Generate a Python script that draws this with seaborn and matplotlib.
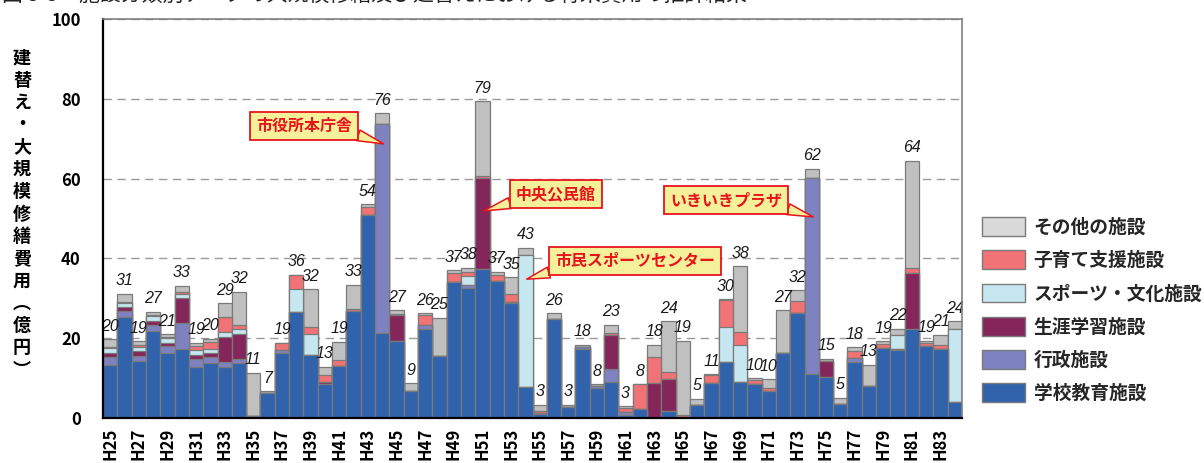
import numpy as np
import pandas as pd
import matplotlib
matplotlib.use("Agg")
import matplotlib.pyplot as plt
from matplotlib.patches import Patch
import seaborn as sns

# ---------------- data ----------------
years = [f"H{y}" for y in range(25, 85)]

school = [13.4, 25.3, 14.25, 21.75, 16.2, 17.3, 12.8, 13.8, 12.8, 13.7,
          0.4, 6.2, 16.3, 26.6, 15.75, 8.5, 13.1, 26.75, 51.0, 21.3,
          19.3, 6.8, 22.25, 15.6, 34.1, 32.6, 37.3, 34.25, 28.8, 7.7,
          1.0, 24.9, 2.8, 17.4, 7.4, 8.9, 0.75, 2.25, 0.0, 1.8,
          0.2, 3.25, 8.7, 14.0, 9.0, 8.5, 6.8, 16.2, 26.2, 11.0,
          10.3, 3.4, 14.1, 8.1, 17.6, 17.0, 22.3, 18.1, 17.4, 4.1]
admin = [1.9, 1.45, 1.35, 1.65, 1.8, 6.5, 2.1, 1.5, 1.3, 1.2,
         0, 0, 0.7, 0, 0, 0, 0, 0, 0, 52.4,
         0, 0, 1.0, 0, 0, 0.65, 0, 0, 0.3, 0,
         0.2, 0, 0, 0.3, 0.7, 3.35, 0.65, 0, 0, 0,
         0, 0, 0, 0, 0, 0, 0, 0, 0, 49.1,
         0, 0, 0.9, 0, 0, 0.4, 0, 0, 0, 0]
lifelong = [0.9, 0.95, 1.15, 0.85, 0.9, 6.4, 0.85, 1.0, 6.2, 6.1,
            0, 0, 0, 0, 0, 0.4, 0, 0, 0, 0,
            6.45, 0, 0, 0, 0, 0, 22.8, 0, 0, 0,
            0, 0, 0, 0, 0, 8.5, 0, 0, 8.7, 7.95,
            0, 0, 0, 0, 0, 0, 0, 0, 0, 0,
            4.0, 0, 0, 0, 0, 0, 14.1, 0, 0, 0]
sports = [1.4, 1.0, 1.05, 1.25, 1.2, 1.0, 1.25, 1.1, 1.3, 1.2,
          0, 0, 0, 5.8, 5.25, 0.2, 0, 0, 0, 0,
          0, 0, 0, 0, 0, 2.25, 0, 0, 0, 33.05,
          0, 0, 0, 0, 0, 0, 0, 0, 0, 0,
          0, 0, 0, 8.9, 9.2, 0, 0, 0, 0, 0,
          0, 0, 0, 0, 0, 3.35, 0, 0, 0, 18.3]
child = [0.2, 0.3, 0.4, 0.3, 0.2, 0.3, 1.0, 1.7, 3.7, 1.2,
         0, 0, 1.7, 3.35, 1.7, 1.8, 1.4, 0.55, 1.9, 0,
         0.3, 0, 2.5, 0, 2.3, 1.1, 0.5, 1.65, 2.1, 0,
         0.6, 0, 0, 0, 0, 0.65, 1.2, 6.15, 6.6, 1.85,
         0.6, 0, 2.05, 6.7, 3.4, 1.0, 0.6, 0, 3.1, 0,
         0, 0, 1.75, 0, 0.9, 0, 1.3, 0.65, 1.0, 0]
other = [1.9, 2.2, 1.05, 0.8, 0.7, 1.6, 0.8, 0.7, 3.4, 8.2,
         10.9, 0.55, 0.2, 0.2, 9.6, 1.9, 4.6, 6.1, 0.7, 2.7,
         0.95, 1.9, 0.55, 9.5, 0.6, 1.1, 18.8, 0.7, 4.1, 1.85,
         1.5, 1.4, 0.5, 0.7, 0.3, 2.0, 0.3, 0.0, 3.1, 12.65,
         18.6, 1.5, 0.25, 0.2, 16.4, 0.5, 2.3, 10.8, 2.7, 2.3,
         0.6, 1.7, 0.95, 5.2, 0.75, 1.65, 26.7, 0.65, 2.5, 1.85]

categories = ["学校教育施設", "行政施設", "生涯学習施設",
              "スポーツ・文化施設", "子育て支援施設", "その他の施設"]
colors = ["#3162AC", "#7F82C0", "#85265B", "#C6E7EF", "#F27375", "#C0C0C0"]
legend_colors = ["#3162AC", "#7F82C0", "#85265B", "#C6E7EF", "#F27375", "#D9D9D9"]

callouts = ["市役所本庁舎", "中央公民館", "市民スポーツセンター", "いきいきプラザ"]
callout_year = ["H44", "H51", "H54", "H74"]
callout_val = [68.7, 51.9, 34.8, 50.4]

# ---------------- figure ----------------
sns.set_theme(style="white")
plt.rcParams["font.family"] = ["Noto Sans CJK JP", "DejaVu Sans"]

W, H = 1204, 463
fig = plt.figure(figsize=(W / 100, H / 100), dpi=100)
ax = fig.add_axes([103 / W, 1 - 418 / H, (962 - 103) / W, (418 - 19) / H])

stack = np.array([school, admin, lifelong, sports, child, other])
cum = np.cumsum(stack, axis=0)
df = pd.DataFrame({"year": years})
for k in range(6):
    df[categories[k]] = cum[k]

for k in reversed(range(6)):
    sns.barplot(data=df, x="year", y=categories[k], order=years,
                color=colors[k], saturation=1, width=1.0,
                edgecolor="#7A7A7A", linewidth=0.9, ax=ax, zorder=3)

totals = cum[-1]
for i, t in enumerate(totals):
    ax.annotate(f"{t:.0f}", xy=(i, t), xytext=(0, 4), textcoords="offset points",
                ha="center", va="bottom", fontsize=11.5, fontstyle="italic",
                family="Liberation Sans", color="#1A1A1A", zorder=5)

ax.set_xlim(-0.5, len(years) - 0.5)
ax.set_ylim(0, 100)
ax.set_yticks([0, 20, 40, 60, 80, 100])
ax.set_xticks(range(0, len(years), 2))
ax.set_xticklabels(years[::2], rotation=90, fontsize=12, fontweight="bold")
for lab in ax.get_yticklabels():
    lab.set_fontsize(12)
    lab.set_fontweight("bold")
ax.tick_params(axis="y", length=0, pad=16, labelcolor="black")
ax.tick_params(axis="x", length=0, pad=7, labelcolor="black")
ax.set_xlabel("")
ax.set_ylabel("")

ax.set_axisbelow(True)
ax.yaxis.grid(True, linestyle=(0, (6, 4)), color="#9A9A9A", linewidth=1.0)
ax.xaxis.grid(False)
for s in ["left", "bottom"]:
    ax.spines[s].set_color("black")
    ax.spines[s].set_linewidth(1.6)
for s in ["top", "right"]:
    ax.spines[s].set_color("#808080")
    ax.spines[s].set_linewidth(1.2)
for s in ax.spines.values():
    s.set_zorder(6)

# y label (vertical stacked characters)
ylab = "建替え・大規模修繕費用︵億円︶"
fig.text(22 / W, 1 - 214 / H, "\n".join(ylab), ha="center", va="center",
         fontsize=13, fontweight="bold", linespacing=1.22, color="black")

# title, mostly above the top edge as in the reference
fig.text(2 / W, 1 - 2 / H, "図 3-3　施設分類別データの大規模修繕及び建替えにおける将来費用の推計結果",
         ha="left", va="baseline", fontsize=15, color="#222222")

# callouts
text_pos = [(304, 126), (556, 194), (635, 261), (726, 200)]
relpos = [(0.95, 0.15), (0.1, 0.2), (0.1, 0.2), (0.95, 0.15)]
for lab, yr, v, (px, py), rp in zip(callouts, callout_year, callout_val, text_pos, relpos):
    xi = years.index(yr)
    ax.annotate(lab, xy=(xi + 0.1, v), xycoords="data",
                xytext=(px, H - py), textcoords="figure pixels",
                ha="center", va="center", fontsize=11.5, fontweight="bold", color="#E8141B",
                bbox=dict(boxstyle="square,pad=0.35", fc="#F5F19A", ec="#E8141B", lw=1.3),
                arrowprops=dict(arrowstyle="wedge,tail_width=0.7,shrink_factor=0.5",
                                fc="#F5F19A", ec="#E8141B", lw=1.1, relpos=rp,
                                shrinkA=0, shrinkB=0),
                zorder=7)

# legend (top to bottom: reverse stacking order)
handles = [Patch(facecolor=legend_colors[k], edgecolor="#7A7A7A", linewidth=1.0,
                 label=categories[k]) for k in reversed(range(6))]
fig.legend(handles=handles, loc="upper left", bbox_to_anchor=(982 / W, 1 - 217 / H),
           frameon=False, borderpad=0, borderaxespad=0, handlelength=2.3,
           handleheight=1.17, handletextpad=0.45, labelspacing=0.72,
           prop=dict(family=["Noto Sans CJK JP", "DejaVu Sans"], weight="bold", size=13.5))

fig.savefig("out.png", dpi=100)
